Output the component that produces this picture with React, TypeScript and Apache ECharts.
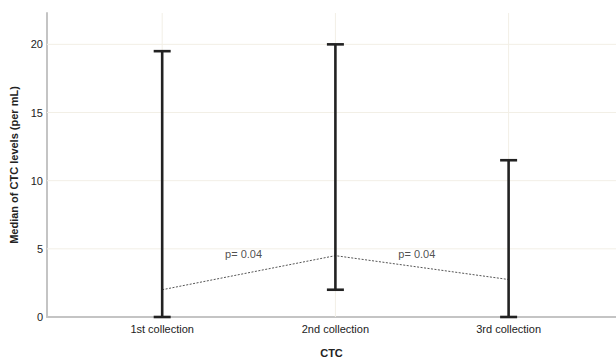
import React, { useEffect, useRef } from "react";
import * as echarts from "echarts";

const categories = ["1st collection", "2nd collection", "3rd collection"];
const lowValues = [0, 2.0, 0];
const highValues = [19.5, 20.0, 11.5];
const medians = [2.0, 4.5, 2.75];
const pLabels = ["p= 0.04", "p= 0.04"];
const pLabelLevel = 4.6;
const yTicks = [0, 5, 10, 15, 20];

const FONT = "Liberation Sans, Arial, Helvetica, sans-serif";

export default function App() {
  const ref = useRef<HTMLDivElement>(null);
  useEffect(() => {
    if (!ref.current) return;
    const chart = echarts.init(ref.current, undefined, { renderer: "svg" });
    const pos = categories.map((_, i) => i + 1);
    const errData = pos.map((x, i) => [x, lowValues[i], highValues[i]]);
    const medData = pos.map((x, i) => [x, medians[i]]);
    const pData = pLabels.map((t, i) => ({
      value: [i + 1.47, pLabelLevel],
      name: t,
    }));
    // grid lines: [kind, value] with kind 0 = horizontal, 1 = vertical
    const gridData = [
      ...yTicks.filter((v) => v > 0).map((v) => [0, v]),
      ...pos.map((v) => [1, v]),
    ];
    chart.setOption({
      animation: false,
      backgroundColor: "#ffffff",
      grid: {
        left: 47,
        right: 0,
        top: 13,
        bottom: 40,
        containLabel: false,
        outerBoundsMode: "none",
        show: false,
      },
      xAxis: {
        type: "value",
        min: 0.335,
        max: 3.62,
        name: "CTC",
        nameLocation: "middle",
        nameGap: 30,
        nameTextStyle: { fontFamily: FONT, fontSize: 11, fontWeight: "bold", color: "#222" },
        axisLine: { show: true, lineStyle: { color: "#c4c4c4", width: 2 } },
        axisTick: { show: false },
        axisLabel: {
          customValues: pos,
          formatter: (v: number) => categories[Math.round(v) - 1] ?? "",
          fontFamily: FONT,
          fontSize: 11,
          color: "#222",
          margin: 6,
        },
        splitLine: { show: false },
        splitArea: { show: false },
      },
      yAxis: {
        type: "value",
        min: 0,
        max: 22.3,
        interval: 5,
        name: "Median of CTC levels (per mL)",
        nameLocation: "middle",
        nameGap: 24,
        nameTextStyle: { fontFamily: FONT, fontSize: 11, fontWeight: "bold", color: "#222" },
        axisLine: { show: true, lineStyle: { color: "#c4c4c4", width: 2 } },
        axisTick: { show: false },
        axisLabel: {
          customValues: yTicks,
          fontFamily: FONT,
          fontSize: 11,
          color: "#222",
          margin: 4,
        },
        splitLine: { show: false },
        splitArea: { show: false },
      },
      series: [
        {
          type: "custom",
          data: gridData,
          silent: true,
          z: 1,
          encode: { x: [], y: [] },
          renderItem: (params: any, api: any) => {
            const cs = params.coordSys;
            const kind = api.value(0);
            const v = api.value(1);
            const style = { stroke: "#f2efe6", lineWidth: 1 };
            if (kind === 0) {
              const p = api.coord([1, v]);
              return {
                type: "line",
                shape: { x1: cs.x, y1: p[1], x2: cs.x + cs.width, y2: p[1] },
                style,
              };
            }
            const p = api.coord([v, 0]);
            return {
              type: "line",
              shape: { x1: p[0], y1: cs.y, x2: p[0], y2: cs.y + cs.height },
              style,
            };
          },
        },
        {
          type: "line",
          data: medData,
          symbol: "none",
          lineStyle: { color: "#555", width: 1, type: [2, 1.5] },
          z: 3,
        },
        {
          type: "custom",
          data: errData,
          z: 5,
          renderItem: (params: any, api: any) => {
            const x = api.value(0);
            const lo = api.coord([x, api.value(1)]);
            const hi = api.coord([x, api.value(2)]);
            const cap = 8.5;
            const style = { stroke: "#222", lineWidth: 2.6, fill: "none" };
            return {
              type: "group",
              children: [
                { type: "line", shape: { x1: lo[0], y1: lo[1], x2: hi[0], y2: hi[1] }, style },
                { type: "line", shape: { x1: hi[0] - cap, y1: hi[1], x2: hi[0] + cap, y2: hi[1] }, style },
                { type: "line", shape: { x1: lo[0] - cap, y1: lo[1], x2: lo[0] + cap, y2: lo[1] }, style },
              ],
            };
          },
        },
        {
          type: "scatter",
          data: pData,
          symbolSize: 0,
          label: {
            show: true,
            position: "inside",
            formatter: (p: any) => p.name,
            fontFamily: FONT,
            fontSize: 11,
            color: "#222",
          },
          z: 6,
        },
      ],
    });
    return () => chart.dispose();
  }, []);
  return (
    <div
      ref={ref}
      style={{ position: "absolute", left: 0, top: 0, width: 616, height: 357, overflow: "hidden" }}
    />
  );
}
